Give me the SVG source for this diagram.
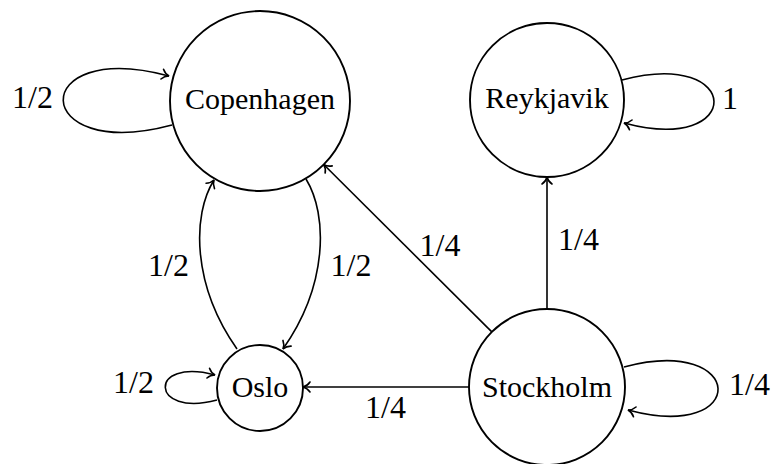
<svg xmlns="http://www.w3.org/2000/svg" width="771" height="464" viewBox="0 0 771 464">
<style>
  .node { fill: #fff; stroke: #000; stroke-width: 1.9; }
  .edge { fill: none; stroke: #000; stroke-width: 1.6; marker-end: url(#arr); }
  text { font-family: "Liberation Serif", "DejaVu Serif", serif; font-size: 30px; fill: #000; text-anchor: middle; }
  .lbl { font-size: 32px; }
</style>
<defs>
  <marker id="arr" viewBox="-10 -7 12 14" refX="0" refY="0" markerWidth="12" markerHeight="14" markerUnits="userSpaceOnUse" orient="auto" overflow="visible">
    <path d="M -7 -5 C -5 -2 -2 -0.5 0 0 C -2 0.5 -5 2 -7 5" fill="none" stroke="#000" stroke-width="1.6" stroke-linecap="round"/>
  </marker>
</defs>
<rect width="771" height="464" fill="#fff"/>
<g id="connectors">
  <path class="edge" d="M 172 125 C 29 163.3, 26 37.7, 169 76"/>
  <path class="edge" d="M 306 179 C 328 215, 328 285, 283 349"/>
  <path class="edge" d="M 237 349 C 192 285, 192 215, 214 180"/>
  <path class="edge" d="M 491.8 331.9 L 323.7 164.5"/>
  <path class="edge" d="M 547 309 L 547 177"/>
  <path class="edge" d="M 469 387 L 303 387"/>
  <path class="edge" d="M 217 400 C 149.4 418.1, 147.4 356.9, 215 375"/>
  <path class="edge" d="M 622 80 C 743.3 47.5, 745.3 155.5, 624 123"/>
  <path class="edge" d="M 624 367 C 746.7 334.1, 750.7 442.9, 628 410"/>
  <text class="lbl" x="32.5" y="108">1/2</text>
  <text class="lbl" x="168.5" y="276">1/2</text>
  <text class="lbl" x="351" y="276">1/2</text>
  <text class="lbl" x="440" y="256">1/4</text>
  <text class="lbl" x="578.5" y="250">1/4</text>
  <text class="lbl" x="385.5" y="418">1/4</text>
  <text class="lbl" x="133.5" y="393">1/2</text>
  <text class="lbl" x="730" y="109">1</text>
  <text class="lbl" x="749.5" y="395">1/4</text>
</g>
<g id="copenhagen">
  <circle class="node" cx="260" cy="101" r="90"/>
  <text x="260" y="109">Copenhagen</text>
</g>
<g id="reykjavik">
  <circle class="node" cx="547" cy="100" r="77"/>
  <text x="547" y="108">Reykjavik</text>
</g>
<g id="oslo">
  <circle class="node" cx="260" cy="388" r="43"/>
  <text x="260" y="397">Oslo</text>
</g>
<g id="stockholm">
  <circle class="node" cx="547" cy="387" r="78"/>
  <text x="547" y="397">Stockholm</text>
</g>
</svg>
